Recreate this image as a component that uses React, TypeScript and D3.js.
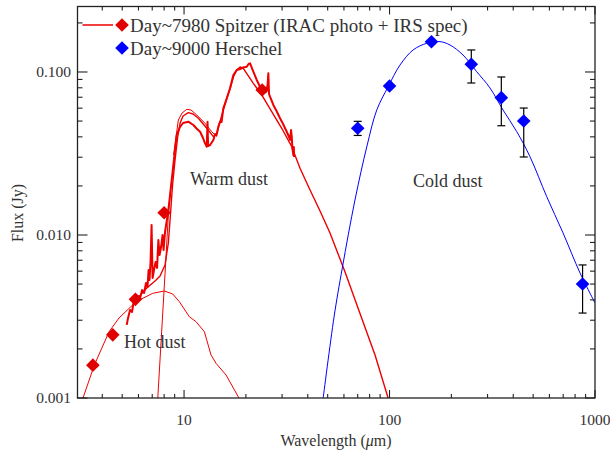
import React from 'react';
import * as d3 from 'd3';

// ---------- data ----------
const xTickMajor = [10, 100, 1000];
const xTickLabels = ['10', '100', '1000'];
const yTickMajor = [0.001, 0.01, 0.1];
const yTickLabels = ['0.001', '0.010', '0.100'];

const spitzerPhot = [
  { w: 3.6, f: 0.00159 },
  { w: 4.5, f: 0.00244 },
  { w: 5.8, f: 0.00403 },
  { w: 8.0, f: 0.0137 },
  { w: 24, f: 0.0775 },
];

const herschelPhot = [
  { w: 70, f: 0.0452, lo: 0.0408, hi: 0.0498 },
  { w: 100, f: 0.0821, lo: null, hi: null },
  { w: 160, f: 0.1534, lo: null, hi: null },
  { w: 250, f: 0.1115, lo: 0.0856, hi: 0.1365 },
  { w: 350, f: 0.0696, lo: 0.0468, hi: 0.0932 },
  { w: 450, f: 0.05, lo: 0.0301, hi: 0.0601 },
  { w: 870, f: 0.005, lo: 0.00332, hi: 0.00655 },
];

// IRS spectrum (wavelength um, flux Jy)
const irsSpectrum: [number, number][] = [
  [5.26, 0.00281], [5.34, 0.0031], [5.46, 0.00347], [5.58, 0.00337], [5.71, 0.00399],
  [5.84, 0.00383], [5.97, 0.00422], [6.11, 0.00411], [6.25, 0.0046], [6.39, 0.00441],
  [6.53, 0.00508], [6.64, 0.0048], [6.72, 0.0061], [6.79, 0.0053], [6.87, 0.00683],
  [6.95, 0.01152], [7.03, 0.00545], [7.14, 0.0061], [7.27, 0.00683], [7.39, 0.00628],
  [7.5, 0.00932], [7.6, 0.00754], [7.73, 0.00844], [7.86, 0.01], [7.95, 0.00809],
  [8.08, 0.01043], [8.22, 0.01202], [8.36, 0.01365], [8.6, 0.01888], [8.87, 0.02689],
  [9.21, 0.04108], [9.56, 0.04598], [9.89, 0.04865], [10.49, 0.04955], [11.1, 0.04729],
  [11.5, 0.04501], [11.97, 0.043], [12.37, 0.03936], [12.65, 0.03652], [12.9, 0.0348],
  [13.01, 0.04955], [13.09, 0.03516], [13.39, 0.03565], [13.89, 0.03827], [14.16, 0.04166],
  [14.4, 0.04108], [14.69, 0.04618], [14.97, 0.04955], [15.23, 0.04934], [15.53, 0.0599],
  [16.14, 0.06896], [16.74, 0.07943], [17.38, 0.09585], [18.05, 0.10287], [18.73, 0.10433],
  [19.37, 0.10657], [20.19, 0.10778], [20.6, 0.11196], [20.95, 0.11308], [21.74, 0.10042],
  [22.58, 0.08932], [23.43, 0.08124], [24.31, 0.07754], [25.06, 0.07538], [25.49, 0.08322],
  [25.72, 0.09818], [25.92, 0.07328], [26.21, 0.07054], [27.2, 0.06274], [28.19, 0.05766],
  [29.32, 0.05199], [30.33, 0.04796], [31.61, 0.043], [32.43, 0.03993], [32.8, 0.03827],
  [33.17, 0.04405], [33.43, 0.0401], [33.66, 0.03417], [34.04, 0.03096], [34.23, 0.03466],
  [34.31, 0.0301],
];

// hot dust component
const hotDust: [number, number][] = [
  [3.214, 0.00099], [3.661, 0.001594], [4.315, 0.002551], [4.827, 0.003096], [5.84, 0.003898],
  [7.043, 0.004389], [8.021, 0.004533], [8.811, 0.004345], [9.487, 0.003898], [10.61, 0.003153],
  [11.44, 0.002938], [12.56, 0.002551], [13.53, 0.001836], [14.31, 0.001633], [16.01, 0.001384],
  [18.58, 0.00099],
];

// warm dust component (rising edge)
const warmDustRise: [number, number][] = [
  [7.447, 0.00099], [7.816, 0.002805], [8.084, 0.005845], [8.386, 0.01327], [8.6, 0.0189],
];

// total model (hot + warm)
const totalModel: [number, number][] = [
  [5.84, 0.00399], [6.584, 0.004729], [7.225, 0.005222], [7.641, 0.005604], [8.081, 0.006546],
  [8.386, 0.008931], [8.597, 0.013646], [8.792, 0.020264], [9.042, 0.028848], [9.297, 0.03936],
  [9.562, 0.048436], [9.888, 0.053708], [10.49, 0.056266], [11.06, 0.055242], [11.74, 0.051988],
  [12.9, 0.045147], [13.89, 0.040101], [14.4, 0.04166], [14.8, 0.04729], [15.53, 0.058452],
  [16.19, 0.069255], [16.74, 0.078643], [17.38, 0.093182], [18.05, 0.10287], [18.73, 0.10732],
  [19.43, 0.10537], [21.74, 0.085213], [23.88, 0.072277], [26.71, 0.057064], [29.88, 0.045147],
  [33.43, 0.034804], [36.68, 0.025657], [41.04, 0.018884], [45.9, 0.014037], [51.33, 0.010287],
  [60.74, 0.0059314], [73.22, 0.0030828], [85.01, 0.0018362], [98.66, 0.00099],
];

// alternative model (upper envelope around 10 um)
const modelUpper: [number, number][] = [
  [8.891, 0.030963], [9.381, 0.050749], [9.778, 0.056027], [10.31, 0.059034], [10.81, 0.058452],
  [11.53, 0.054473], [12.65, 0.048436], [13.64, 0.042998], [14.43, 0.040101],
];

// cold dust component
const coldDust: [number, number][] = [
  [47.5, 0.00099], [53.7, 0.00314], [58.9, 0.00627], [67.9, 0.0164], [77.7, 0.0352],
  [86.7, 0.0585], [98.3, 0.0809], [112.5, 0.1104], [130.2, 0.1364], [151.7, 0.15],
  [176.1, 0.1535], [197, 0.1464], [227.9, 0.1271], [265.7, 0.1004], [308.3, 0.0798],
  [356.7, 0.0585], [415.9, 0.0431], [482.8, 0.0302], [582, 0.0172], [698.8, 0.0103],
  [845.5, 0.00585], [1000, 0.00383],
];

const legendLabels = ['Day~7980 Spitzer (IRAC photo + IRS spec)', 'Day~9000 Herschel'];

// ---------- layout ----------
const W = 610;
const H = 457;
const left = 77.5, right = 595, top = 6.5, bottom = 398;
const RED = '#ee0000';
const REDM = '#e00000';
const BLUE = '#0000ff';
const TXT = '#333';
const AX = '#222';
const FONT = '"Liberation Serif", "Times New Roman", serif';

const x = d3.scaleLog().domain([3.03, 1000]).range([left, right]);
const y = d3.scaleLog().domain([0.001, 0.2522]).range([bottom, top]);

const lin = d3.line<[number, number]>().x(d => x(d[0])).y(d => y(d[1]));
const smooth = d3.line<[number, number]>().x(d => x(d[0])).y(d => y(d[1])).curve(d3.curveCatmullRom);

function diamond(cx: number, cy: number, r: number) {
  return `M${cx},${cy - r}L${cx + r},${cy}L${cx},${cy + r}L${cx - r},${cy}Z`;
}

export default function App() {
  const xMinor: number[] = [];
  for (const dec of [1, 10, 100]) for (let k = 2; k <= 9; k++) {
    const v = dec * k;
    if (v > 3.03 && v < 1000) xMinor.push(v);
  }
  const yMinor: number[] = [];
  for (const dec of [0.001, 0.01, 0.1]) for (let k = 2; k <= 9; k++) {
    const v = dec * k;
    if (v < 0.2522) yMinor.push(v);
  }
  const xMajLen = 8, xMinLen = 4, yMajLen = 10, yMinLen = 5;
  const R = 6.8;
  return (
    <svg width={W} height={H} style={{ position: 'absolute', left: 0, top: 0, background: '#fff' }}
      fontFamily={FONT}>
      <defs>
        <clipPath id="plot"><rect x={left} y={top} width={right - left} height={bottom - top} /></clipPath>
      </defs>
      <rect x={0} y={0} width={W} height={H} fill="#fff" />
      <g clipPath="url(#plot)" fill="none" strokeLinejoin="round">
        <path d={lin(hotDust) || ''} stroke={RED} strokeWidth={1} />
        <path d={lin(warmDustRise) || ''} stroke={RED} strokeWidth={1} />
        <path d={lin(modelUpper) || ''} stroke={RED} strokeWidth={1} />
        <path d={lin(totalModel) || ''} stroke={RED} strokeWidth={1.4} />
        <path d={lin(irsSpectrum) || ''} stroke={RED} strokeWidth={2} />
        <path d={smooth(coldDust) || ''} stroke={BLUE} strokeWidth={1} />
      </g>
      {/* error bars */}
      <g stroke="#000" strokeWidth={1.2}>
        {herschelPhot.filter(d => d.lo != null).map((d, i) => (
          <g key={i}>
            <line x1={x(d.w)} x2={x(d.w)} y1={y(d.lo as number)} y2={y(d.hi as number)} />
            <line x1={x(d.w) - 4} x2={x(d.w) + 4} y1={y(d.lo as number)} y2={y(d.lo as number)} />
            <line x1={x(d.w) - 4} x2={x(d.w) + 4} y1={y(d.hi as number)} y2={y(d.hi as number)} />
          </g>
        ))}
      </g>
      {spitzerPhot.map((d, i) => <path key={'s' + i} d={diamond(x(d.w), y(d.f), R)} fill={REDM} />)}
      {herschelPhot.map((d, i) => <path key={'h' + i} d={diamond(x(d.w), y(d.f), R)} fill={BLUE} />)}

      {/* frame */}
      <rect x={left} y={top} width={right - left} height={bottom - top} fill="none" stroke={AX} strokeWidth={1.3} />
      <g stroke={AX} strokeWidth={1.1}>
        {xTickMajor.map((v, i) => (
          <g key={'xm' + i}>
            <line x1={x(v)} x2={x(v)} y1={bottom} y2={bottom - xMajLen} />
            <line x1={x(v)} x2={x(v)} y1={top} y2={top + xMajLen} />
          </g>
        ))}
        {xMinor.map((v, i) => (
          <g key={'xn' + i}>
            <line x1={x(v)} x2={x(v)} y1={bottom} y2={bottom - xMinLen} />
            <line x1={x(v)} x2={x(v)} y1={top} y2={top + xMinLen} />
          </g>
        ))}
        {yTickMajor.map((v, i) => (
          <g key={'ym' + i}>
            <line x1={left} x2={left + yMajLen} y1={y(v)} y2={y(v)} />
            <line x1={right} x2={right - yMajLen} y1={y(v)} y2={y(v)} />
          </g>
        ))}
        {yMinor.map((v, i) => (
          <g key={'yn' + i}>
            <line x1={left} x2={left + yMinLen} y1={y(v)} y2={y(v)} />
            <line x1={right} x2={right - yMinLen} y1={y(v)} y2={y(v)} />
          </g>
        ))}
      </g>
      <g fill={TXT} fontSize={15.5}>
        {xTickMajor.map((v, i) => (
          <text key={'xl' + i} x={x(v)} y={425} textAnchor="middle">{xTickLabels[i]}</text>
        ))}
        {yTickMajor.map((v, i) => (
          <text key={'yl' + i} x={71} y={y(v)} dy="0.35em" textAnchor="end">{yTickLabels[i]}</text>
        ))}
      </g>
      <text x={336} y={446} textAnchor="middle" fontSize={16} fill={TXT}>
        Wavelength (<tspan fontStyle="italic">μ</tspan>m)
      </text>
      <text transform="translate(23,213) rotate(-90)" textAnchor="middle" fontSize={16} fill={TXT}>Flux (Jy)</text>

      {/* annotations */}
      <g fill={TXT} fontSize={18}>
        <text x={190} y={185}>Warm dust</text>
        <text x={413} y={187}>Cold dust</text>
        <text x={124} y={348}>Hot dust</text>
      </g>

      {/* legend */}
      <line x1={82.5} x2={113} y1={25} y2={25} stroke={RED} strokeWidth={1.5} />
      <path d={diamond(122, 25, R)} fill={REDM} />
      <path d={diamond(122, 48, R)} fill={BLUE} />
      <g fill={TXT} fontSize={19}>
        <text x={130} y={31.5}>{legendLabels[0]}</text>
        <text x={130} y={54.5}>{legendLabels[1]}</text>
      </g>
    </svg>
  );
}
